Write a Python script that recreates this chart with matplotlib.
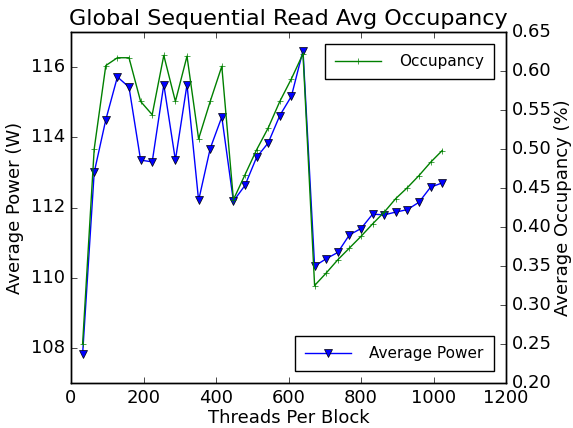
import numpy as np
import matplotlib
matplotlib.use('Agg')
import matplotlib.pyplot as plt

plt.style.use('classic')

threads = np.arange(32, 1025, 32)
power = [107.82, 113.0, 114.5, 115.72, 115.43, 113.35, 113.3, 115.5, 113.35, 115.5,
         112.2, 113.68, 114.58, 112.18, 112.63, 113.43, 113.84, 114.62, 115.17, 116.47,
         110.33, 110.54, 110.72, 111.22, 111.4, 111.81, 111.79, 111.87, 111.94, 112.15,
         112.58, 112.7]
occupancy = [0.25, 0.5, 0.607, 0.617, 0.617, 0.561, 0.544, 0.62, 0.561, 0.619,
             0.513, 0.561, 0.606, 0.435, 0.467, 0.499, 0.527, 0.561, 0.59, 0.622,
             0.325, 0.341, 0.358, 0.373, 0.388, 0.404, 0.419, 0.4365, 0.4505, 0.466,
             0.483, 0.498]

fs = 13
fig = plt.figure(figsize=(5.73, 4.28), dpi=100, facecolor='white')
ax = fig.add_subplot(111)
fig.subplots_adjust(left=71/573, right=506/573, top=1-32/428, bottom=1-383/428)

leg_kw = dict(fontsize=11, numpoints=1, handlelength=3.0, handletextpad=1.2,
              borderpad=0.65, borderaxespad=0.8, fancybox=False)

ax.plot(threads, power, 'b-v', markersize=5.5, label='Average Power')
ax.set_xlim(0, 1200)
ax.set_ylim(107, 117)
ax.set_xlabel('Threads Per Block', fontsize=fs, labelpad=2)
ax.set_ylabel('Average Power (W)', fontsize=fs)
ax.tick_params(labelsize=fs)
ax.legend(loc='lower right', **leg_kw)

ax2 = ax.twinx()
ax2.plot(threads, occupancy, 'g-+', markersize=5, label='Occupancy')
ax2.set_ylim(0.2, 0.65)
ax2.set_ylabel('Average Occupancy (%)', fontsize=fs, labelpad=2)
ax2.tick_params(labelsize=fs)
ax2.legend(loc='upper right', **leg_kw)

ax.set_title('Global Sequential Read Avg Occupancy', fontsize=fs + 3)

fig.savefig('out.png', dpi=100, facecolor='white')
